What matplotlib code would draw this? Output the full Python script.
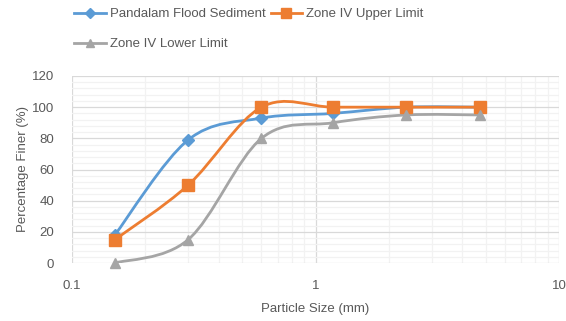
import matplotlib
matplotlib.use('Agg')
import matplotlib.pyplot as plt
from matplotlib.path import Path
from matplotlib.patches import PathPatch
from matplotlib.lines import Line2D
from matplotlib.ticker import FixedLocator, LogLocator, NullFormatter
import numpy as np

plt.rcParams['font.family'] = ['Liberation Sans', 'DejaVu Sans']

# sieve sizes (mm)
sizes = [0.15, 0.3, 0.6, 1.18, 2.36, 4.75]
pandalam = [18, 79, 93, 96, 100, 100]
upper = [15, 50, 100, 100, 100, 100]
lower = [0, 15, 80, 90, 95, 95]

labels = ['Pandalam Flood Sediment', 'Zone IV Upper Limit', 'Zone IV Lower Limit']
colors = ['#5B9BD5', '#ED7D31', '#A5A5A5']
markers = ['D', 's', '^']
msizes = [6, 8, 7.5]
TXT = '#595959'


def smooth_path(xs, ys):
    # spreadsheet-style smoothed line: cubic bezier through the points (log x)
    pts = np.column_stack([np.log10(xs), ys]).astype(float)
    n = len(pts)
    verts = [pts[0]]
    codes = [Path.MOVETO]
    for i in range(n - 1):
        p0 = pts[max(i - 1, 0)]
        p1 = pts[i]
        p2 = pts[i + 1]
        p3 = pts[min(i + 2, n - 1)]
        verts += [p1 + (p2 - p0) / 6, p2 - (p3 - p1) / 6, p2]
        codes += [Path.CURVE4] * 3
    verts = np.array(verts)
    verts[:, 0] = 10 ** verts[:, 0]
    return Path(verts, codes)


fig = plt.figure(figsize=(5.66, 3.21), dpi=100)
ax = fig.add_axes([72 / 566, 1 - 263 / 321, 487 / 566, 187 / 321])
ax.set_xscale('log')
ax.set_xlim(0.1, 10)
ax.set_ylim(0, 120)

ax.xaxis.set_major_locator(FixedLocator([0.1, 1, 10]))
ax.set_xticklabels(['0.1', '1', '10'])
ax.xaxis.set_minor_locator(LogLocator(base=10, subs=np.arange(2, 10)))
ax.xaxis.set_minor_formatter(NullFormatter())
ax.set_yticks(np.arange(0, 121, 20))
ax.set_yticks(np.arange(0, 121, 4), minor=True)

ax.grid(True, which='major', color='#D9D9D9', lw=0.9)
ax.grid(True, which='minor', color='#F2F2F2', lw=0.9)
ax.set_axisbelow(True)
for s in ax.spines.values():
    s.set_visible(False)
ax.tick_params(which='both', length=0, colors=TXT, labelsize=9.5)
ax.tick_params(axis='x', pad=12)
ax.tick_params(axis='y', pad=13)

series = [pandalam, upper, lower]
handles = []
for ys, c, m, ms, lab in zip(series, colors, markers, msizes, labels):
    ax.add_patch(PathPatch(smooth_path(sizes, ys), facecolor='none', edgecolor=c, lw=2, zorder=2))
    ax.plot(sizes, ys, linestyle='none', marker=m, ms=ms, color=c, zorder=3, clip_on=False)
    handles.append(Line2D([], [], color=c, lw=2, marker=m, ms=ms * 0.85))

ax.set_xlabel('Particle Size (mm)', color=TXT, fontsize=9.5, labelpad=8)
ax.set_ylabel('Percentage Finer (%)', color=TXT, fontsize=9.5, labelpad=2)

order = [0, 2, 1]
fig.legend([handles[i] for i in order], [labels[i] for i in order], ncol=2,
           loc='upper left', bbox_to_anchor=(74 / 566, 1 - 8 / 321), frameon=False,
           fontsize=9.5, labelcolor=TXT, handlelength=2.4, handletextpad=0.3,
           columnspacing=0.4, labelspacing=1.35, borderpad=0, borderaxespad=0)

fig.savefig('out.png', dpi=100)
